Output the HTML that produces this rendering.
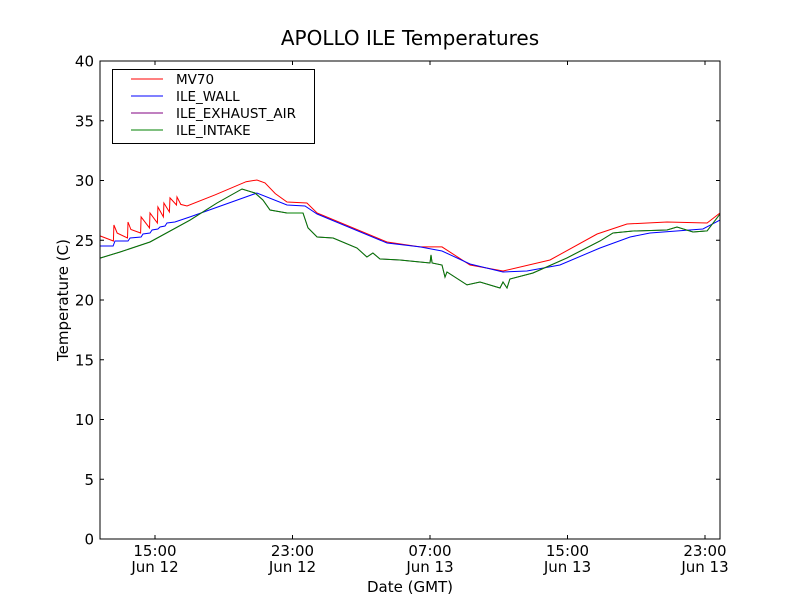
<!DOCTYPE html>
<html><head><meta charset="utf-8"><style>
body{margin:0;background:#fff}
svg text{font-family:"DejaVu Sans","Liberation Sans",sans-serif;fill:#000}
</style></head><body>
<svg id="chart" width="800" height="600" xmlns="http://www.w3.org/2000/svg">
<rect width="800" height="600" fill="#fff"/>
<text x="410" y="45" font-size="20" text-anchor="middle">APOLLO ILE Temperatures</text>
<g id="plot"></g>
<rect x="100" y="61" width="620" height="478" fill="none" stroke="#000" stroke-width="1"/>
<text x="410" y="592" font-size="15" text-anchor="middle">Date (GMT)</text>
<text transform="translate(68,300) rotate(-90)" font-size="15" text-anchor="middle">Temperature (C)</text>
<g>
<rect x="112.5" y="69.5" width="202" height="74" fill="#fff" stroke="#000"/>
<line x1="131" y1="79" x2="163" y2="79" stroke="#ff0000"/>
<text x="176" y="84" font-size="13.5">MV70</text>
<line x1="131" y1="96" x2="163" y2="96" stroke="#0000ff"/>
<text x="176" y="101" font-size="13.5">ILE_WALL</text>
<line x1="131" y1="113" x2="163" y2="113" stroke="#800080"/>
<text x="176" y="118" font-size="13.5">ILE_EXHAUST_AIR</text>
<line x1="131" y1="130" x2="163" y2="130" stroke="#008000"/>
<text x="176" y="135" font-size="13.5">ILE_INTAKE</text>
</g>
</svg>
<script>
const yTicks=[0,5,10,15,20,25,30,35,40];
const xTickHours=[15,23,31,39,47];
const xTickTimes=["15:00","23:00","07:00","15:00","23:00"];
const xTickDates=["Jun 12","Jun 12","Jun 13","Jun 13","Jun 13"];
const mvT=[11.8,12.58,12.61,12.8,13.40,13.43,13.6,14.16,14.19,14.68,14.71,15.14,15.17,15.49,15.52,15.84,15.87,16.25,16.28,16.5,16.86,18.5,20.3,20.93,21.4,22.0,22.68,23.84,24.43,28.50,30.42,31.70,33.33,35.25,37.98,40.72,42.46,44.79,47.12,47.87];
const mvV=[25.36,24.94,26.28,25.6,25.19,26.53,25.9,25.61,26.95,26.03,27.28,26.44,27.78,26.95,28.12,27.36,28.54,27.95,28.62,28.0,27.87,28.8,29.9,30.04,29.8,28.9,28.20,28.12,27.28,24.85,24.44,24.44,22.93,22.43,23.35,25.52,26.36,26.53,26.44,27.28];
const wallT=[11.8,12.56,12.67,13.43,13.55,14.19,14.30,14.71,14.83,15.17,15.29,15.58,15.70,16.16,17.04,20.93,22.68,23.73,24.43,28.50,30.42,31.70,33.33,35.25,36.64,38.56,40.89,42.64,43.80,46.88,47.87];
const wallV=[24.52,24.52,24.94,24.94,25.19,25.27,25.52,25.61,25.86,25.94,26.11,26.19,26.44,26.53,26.95,28.95,27.95,27.87,27.20,24.77,24.44,24.10,23.01,22.34,22.43,22.93,24.35,25.27,25.61,25.94,26.69];
const inT=[11.8,12.97,14.71,17.04,18.61,20.06,20.82,21.28,21.69,22.68,23.61,23.90,24.43,25.36,26.75,27.33,27.68,28.09,29.25,30.42,31.00,31.06,31.12,31.70,31.87,31.99,33.15,33.91,35.07,35.25,35.48,35.65,36.99,38.97,40.89,41.65,42.81,44.79,45.37,46.30,47.12,47.87];
const inV=[23.51,24.02,24.85,26.69,28.12,29.29,28.95,28.37,27.53,27.28,27.28,26.03,25.27,25.19,24.35,23.60,23.93,23.43,23.35,23.18,23.10,23.77,23.10,22.93,21.92,22.34,21.26,21.51,21.00,21.51,21.00,21.76,22.26,23.52,24.94,25.61,25.77,25.86,26.11,25.69,25.78,27.20];
const X0=100,X1=720,Y0=539,Y1=61;
const xS=h=>155+(h-15)*17.1875;
const yS=v=>Y0-(v/40)*(Y0-Y1);
const NS="http://www.w3.org/2000/svg";
const svg=document.getElementById('chart');
const plot=document.getElementById('plot');
function mk(tag,attrs,parent){const e=document.createElementNS(NS,tag);for(const k in attrs)e.setAttribute(k,attrs[k]);(parent||svg).appendChild(e);return e;}
yTicks.forEach(v=>{
  const y=yS(v);
  const l=mk('path',{d:`M${X0},${y}h4M${X1},${y}h-4`,stroke:'#000'});
  
  
  const t=mk('text',{x:X0-6,y:y+5.5,'font-size':15,'text-anchor':'end'});
  t.textContent=v;
  
  
});
xTickHours.forEach((h,i)=>{
  const x=xS(h);
  const l=mk('path',{d:`M${x},${Y0}v-4M${x},${Y1}v4`,stroke:'#000'});
  
  
  const t=mk('text',{x:x,y:556,'font-size':15,'text-anchor':'middle'});
  t.textContent=xTickTimes[i];
  
  
  const d=mk('text',{x:x,y:572,'font-size':15,'text-anchor':'middle'});
  d.textContent=xTickDates[i];
  
  
});
function line(ts,vs,color,name,w){
  const d=ts.map((t,i)=>(i?'L':'M')+xS(t).toFixed(1)+','+yS(vs[i]).toFixed(1)).join('');
  const p=mk('path',{d:d,fill:'none',stroke:color,'stroke-width':w||1},plot);
  
  
}
line(mvT,mvV,'#ff0000','series-mv70');
line(wallT,wallV,'#0000ff','series-ile-wall');
line(inT,inV,'#800080','series-ile-exhaust-air');
line(inT,inV,'#008000','series-ile-intake',1);
</script>
</body></html>
